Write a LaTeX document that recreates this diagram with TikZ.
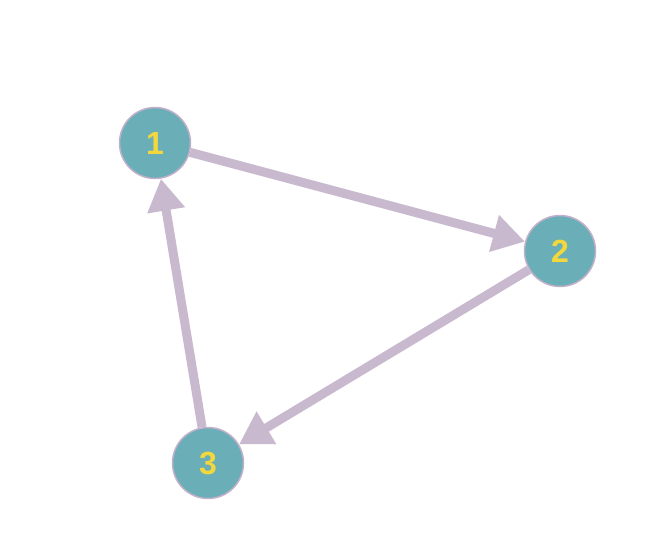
\documentclass[tikz,border=0pt]{standalone}
\usepackage{fontspec}
\setmainfont{Liberation Sans}
\usetikzlibrary{arrows.meta}
\definecolor{nodefill}{HTML}{6AAEB7}
\definecolor{nodeborder}{HTML}{C2B0CA}
\definecolor{edgecol}{HTML}{C9B9CF}
\definecolor{labcol}{HTML}{F2D83C}
\begin{document}
\begin{tikzpicture}[x=1pt,y=-1pt,
  vtx/.style={circle,fill=nodefill,draw=nodeborder,line width=1.5pt,minimum size=71pt,inner sep=0pt,font=\bfseries\fontsize{32}{32}\selectfont,text=labcol},
  edge/.style={draw=edgecol,line width=9pt,-{Triangle[length=32pt,width=36pt]}}]
\useasboundingbox (0,0) rectangle (668,554);
\node[vtx] (n1) at (155,143) {1};
\node[vtx] (n2) at (560,251) {2};
\node[vtx] (n3) at (208,463) {3};
\draw[edge] (n1) -- (n2);
\draw[edge] (n2) -- (n3);
\draw[edge] (n3) -- (n1);
\end{tikzpicture}
\end{document}
